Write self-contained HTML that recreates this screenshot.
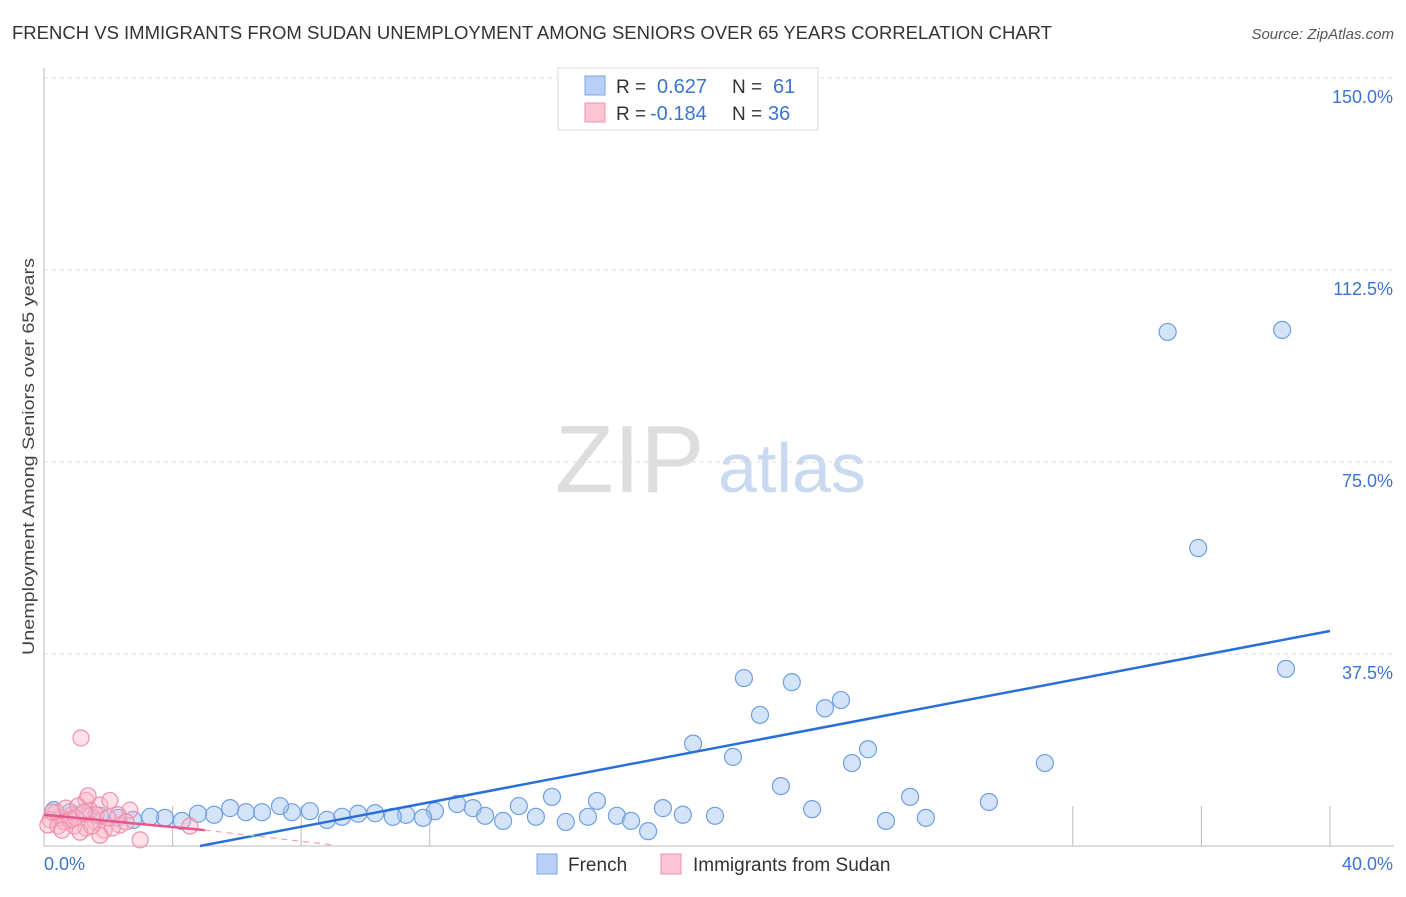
<!DOCTYPE html>
<html><head><meta charset="utf-8"><style>
body{margin:0;background:#fff;font-family:"Liberation Sans",sans-serif}
svg text{font-family:"Liberation Sans",sans-serif}
</style></head><body>
<svg id="c" width="1406" height="892">
<text x="12" y="39" font-size="18" fill="#333" textLength="1040" lengthAdjust="spacingAndGlyphs">FRENCH VS IMMIGRANTS FROM SUDAN UNEMPLOYMENT AMONG SENIORS OVER 65 YEARS CORRELATION CHART</text>
<text x="1394" y="39" font-size="15" fill="#555" font-style="italic" text-anchor="end">Source: ZipAtlas.com</text>
<text x="34" y="655" font-size="17" fill="#444" textLength="397" lengthAdjust="spacingAndGlyphs" transform="rotate(-90 34 655)">Unemployment Among Seniors over 65 years</text>
<text x="555" y="492" font-size="96" fill="#ddd" font-family="Liberation Serif">ZIP</text>
<text x="718" y="492" font-size="70" fill="#c9d9ef">atlas</text>
<g id="grid"></g><g id="pts"></g><g id="lines"></g>
<g>
<rect x="558" y="68" width="260" height="62" fill="#fff" stroke="#ddd"/>
<rect x="585" y="76" width="20" height="19" fill="#b8d0f5" stroke="#7aa6e8"/>
<rect x="585" y="103" width="20" height="19" fill="#fcc5d4" stroke="#ee8fab"/>
<text x="616" y="93" font-size="19" fill="#333">R =</text><text x="657" y="93" font-size="20" fill="#3b74d0">0.627</text>
<text x="732" y="93" font-size="19" fill="#333">N =</text><text x="773" y="93" font-size="20" fill="#3b74d0">61</text>
<text x="616" y="120" font-size="19" fill="#333">R =</text><text x="650" y="120" font-size="20" fill="#3b74d0">-0.184</text>
<text x="732" y="120" font-size="19" fill="#333">N =</text><text x="768" y="120" font-size="20" fill="#3b74d0">36</text>
</g>
<g>
<rect x="537" y="854" width="20" height="20" fill="#b8d0f5" stroke="#7aa6e8"/>
<text x="568" y="871" font-size="19" fill="#333">French</text>
<rect x="661" y="854" width="20" height="20" fill="#fcc5d4" stroke="#ee8fab"/>
<text x="693" y="871" font-size="19" fill="#333">Immigrants from Sudan</text>
</g>
</svg>
<script>
const yTicks=[37.5,75,112.5,150];
const yTickLabels=["37.5%","75.0%","112.5%","150.0%"];
const frenchX=[34.95,38.51,35.9,38.63,21.77,23.26,22.27,24.79,24.29,20.19,21.43,25.63,25.13,31.13,22.92,26.94,29.39,15.8,17.2,19.25,23.89,12.85,13.34,14.77,12.16,11.26,10.3,9.77,9.27,8.8,10.85,11.79,13.72,14.28,15.3,16.23,16.92,17.82,18.26,18.79,19.87,20.87,26.19,27.43,8.27,7.71,7.34,6.78,6.28,5.79,5.29,4.79,4.29,3.76,3.3,2.77,2.3,1.74,1.27,0.81,0.31];
const frenchY=[100.4,100.8,58.2,34.6,32.8,32.0,25.6,28.5,26.9,20.0,17.4,18.9,16.2,16.2,11.7,9.6,8.6,9.6,8.8,7.4,7.2,8.2,7.4,7.8,6.8,6.1,6.4,6.3,5.7,5.1,5.7,5.5,5.9,4.9,5.7,4.7,5.7,5.9,4.9,2.9,6.1,5.9,4.9,5.5,6.8,6.6,7.8,6.6,6.6,7.4,6.1,6.3,4.9,5.5,5.7,5.1,5.5,5.9,6.4,6.6,7.0];
const sudanX=[1.15,1.43,1.31,1.74,2.05,0.87,0.5,0.19,0.37,0.68,1.06,1.59,1.87,2.36,1.31,0.93,2.12,2.67,0.62,0.12,2.99,4.54,1.62,1.37,0.44,0.81,1.12,2.3,2.55,1.74,0.25,0.56,0.99,1.49,1.99,1.24];
const sudanY=[21.1,7.0,8.9,8.0,8.9,6.1,5.5,5.1,6.6,7.4,7.8,4.7,3.1,4.1,3.5,3.9,3.5,7.0,4.7,4.1,1.2,3.9,6.1,9.8,3.9,5.1,2.7,6.1,4.7,2.1,6.6,3.1,5.5,3.9,5.5,6.6];
const frenchTrend=[[4.85,0],[40,42]];
const sudanTrend=[[0,6.1],[5.0,3.1]];
const sudanDash=[[5.0,3.1],[9.0,0.2]];
const X=v=>44+v*32.15, Y=v=>846-v*5.12;
const ns="http://www.w3.org/2000/svg";
function mk(t,a,p){const e=document.createElementNS(ns,t);for(const k in a)e.setAttribute(k,a[k]);p.appendChild(e);return e;}
const g=document.getElementById('grid');
yTicks.forEach((t,i)=>{
 const l=mk('line',{x1:44,x2:1394,y1:Y(t),y2:Y(t),stroke:'#ddd','stroke-dasharray':'4 4'},g);
 
 
 const tx=mk('text',{x:1393,y:Y(t)+25,'font-size':18,fill:'#3b74d0','text-anchor':'end'},g);
 tx.textContent=yTickLabels[i];
 
 
});
const ax=mk('line',{x1:44,x2:44,y1:68,y2:846,stroke:'#bbb'},g);


const bx=mk('line',{x1:44,x2:1394,y1:846,y2:846,stroke:'#bbb'},g);


[1,2,3,8,9,10].forEach(k=>{const t=mk('line',{x1:X(k*4),x2:X(k*4),y1:806,y2:846,stroke:'#bbb'},g);
 
 });
const x0=mk('text',{x:44,y:870,'font-size':18,fill:'#3b74d0'},g);x0.textContent='0.0%';


const x1=mk('text',{x:1393,y:870,'font-size':18,fill:'#3b74d0','text-anchor':'end'},g);x1.textContent='40.0%';


const pg=document.getElementById('pts');
frenchX.forEach((v,i)=>{const c=mk('circle',{cx:X(v),cy:Y(frenchY[i]),r:8.5,fill:'rgba(160,195,240,0.45)',stroke:'#6f9fe0','stroke-width':1.2},pg);
 
 });
sudanX.forEach((v,i)=>{const c=mk('circle',{cx:X(v),cy:Y(sudanY[i]),r:8,fill:'rgba(250,180,200,0.4)',stroke:'#ee8fab','stroke-width':1.2},pg);
 
 });
const lg=document.getElementById('lines');
const l1=mk('line',{x1:X(frenchTrend[0][0]),y1:Y(frenchTrend[0][1]),x2:X(frenchTrend[1][0]),y2:Y(frenchTrend[1][1]),stroke:'#2a6fd6','stroke-width':2.5},lg);


const l2=mk('line',{x1:X(sudanTrend[0][0]),y1:Y(sudanTrend[0][1]),x2:X(sudanTrend[1][0]),y2:Y(sudanTrend[1][1]),stroke:'#e8558a','stroke-width':2.5},lg);


const l3=mk('line',{x1:X(sudanDash[0][0]),y1:Y(sudanDash[0][1]),x2:X(sudanDash[1][0]),y2:Y(sudanDash[1][1]),stroke:'#eea0b8','stroke-width':1.2,'stroke-dasharray':'6 5'},lg);


</script>
</body></html>
